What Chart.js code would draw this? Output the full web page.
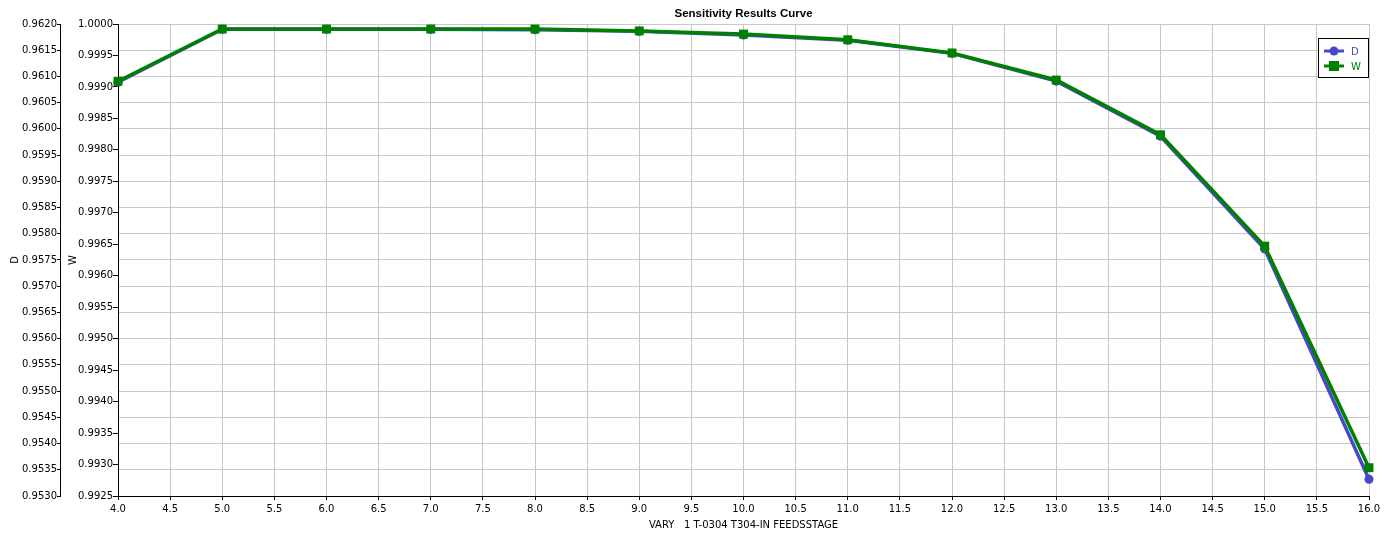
<!DOCTYPE html>
<html>
<head>
<meta charset="utf-8">
<script src="https://cdn.jsdelivr.net/npm/chart.js@4"></script>
<style>
  html, body { margin: 0; padding: 0; background: #fff; }
  #wrap { width: 1387px; height: 540px; }
</style>
</head>
<body>
<div id="wrap"><canvas id="myChart"></canvas></div>
<script>
// feed stage values (x axis)
const stages = [4, 5, 6, 7, 8, 9, 10, 11, 12, 13, 14, 15, 16];
// D series, plotted on the outer left axis
const dValues = [0.96089, 0.96190, 0.96190, 0.96190, 0.96189, 0.96186, 0.96179, 0.96169, 0.96144, 0.96091, 0.95986, 0.95771, 0.95332];
// W series, plotted on the inner left axis
const wValues = [0.99909, 0.99992, 0.99992, 0.99992, 0.99992, 0.99989, 0.99984, 0.99975, 0.99954, 0.99911, 0.99824, 0.99647, 0.99295];

const blue = '#4848c8';
const green = '#008000';
const gridColor = '#c8c8c8';
const font = { family: 'DejaVu Sans', size: 10 };

// title centred over the plot + boxed legend in the top right corner
const decorations = {
    id: 'decorations',
    afterDraw(chart) {
        const ctx = chart.ctx;
        const area = chart.chartArea;
        ctx.save();
        ctx.fillStyle = '#000';
        ctx.font = 'bold 11.5px "Liberation Sans"';
        ctx.textAlign = 'center';
        ctx.textBaseline = 'middle';
        ctx.fillText('Sensitivity Results Curve', (area.left + area.right) / 2, 14);

        // legend box
        const bx = 1318, by = 38, bw = 51, bh = 40;
        ctx.fillStyle = '#fff';
        ctx.fillRect(bx, by, bw, bh);
        ctx.strokeStyle = '#000';
        ctx.lineWidth = 1;
        ctx.strokeRect(bx + 0.5, by + 0.5, bw - 1, bh - 1);

        ctx.font = '10px "DejaVu Sans"';
        ctx.textAlign = 'left';
        chart.data.datasets.slice().reverse().forEach((ds, i) => {
            const y = by + 13 + i * 15;
            ctx.strokeStyle = ds.borderColor;
            ctx.lineWidth = 3;
            ctx.beginPath();
            ctx.moveTo(bx + 6, y);
            ctx.lineTo(bx + 26, y);
            ctx.stroke();
            ctx.fillStyle = ds.borderColor;
            if (ds.pointStyle === 'rect') {
                ctx.fillRect(bx + 11, y - 5, 10, 10);
            } else {
                ctx.beginPath();
                ctx.arc(bx + 16, y, 4.5, 0, Math.PI * 2);
                ctx.fill();
            }
            ctx.fillText(ds.label, bx + 33, y + 1);
        });
        ctx.restore();
    }
};

const ctx = document.getElementById('myChart').getContext('2d');

const chart = new Chart(ctx, {
    type: 'line',
    data: {
        datasets: [
            {
                label: 'W',
                data: stages.map((s, i) => ({ x: s, y: wValues[i] })),
                yAxisID: 'yW',
                borderColor: green,
                backgroundColor: green,
                borderWidth: 3.5,
                pointStyle: 'rect',
                pointRadius: 6.3,
                pointBorderWidth: 0,
                clip: false,
                tension: 0
            },
            {
                label: 'D',
                data: stages.map((s, i) => ({ x: s, y: dValues[i] })),
                yAxisID: 'yD',
                borderColor: blue,
                backgroundColor: blue,
                borderWidth: 3.5,
                pointStyle: 'circle',
                pointRadius: 4.5,
                pointBorderWidth: 0,
                clip: false,
                tension: 0
            }
        ]
    },
    options: {
        responsive: true,
        maintainAspectRatio: false,
        animation: false,
        layout: { padding: { top: 24, right: 18, bottom: 0, left: 0 } },
        plugins: {
            legend: { display: false },
            title: { display: false },
            tooltip: { enabled: false }
        },
        scales: {
            x: {
                type: 'linear',
                min: 4,
                max: 16,
                afterFit: s => { s.height = 44; },
                ticks: {
                    stepSize: 0.5,
                    color: '#000',
                    font: font,
                    padding: 3,
                    maxRotation: 0,
                    autoSkip: false,
                    callback: v => v.toFixed(1)
                },
                grid: { color: gridColor, tickColor: '#000', tickLength: 4, lineWidth: 1 },
                border: { color: '#000', width: 1 },
                title: {
                    display: true,
                    text: 'VARY   1 T-0304 T304-IN FEEDSSTAGE',
                    color: '#000',
                    font: font,
                    padding: { top: 0, bottom: 9 }
                }
            },
            yD: {
                type: 'linear',
                position: 'left',
                weight: 1,
                min: 0.953,
                max: 0.962,
                afterFit: s => { s.width = 60; },
                ticks: {
                    stepSize: 0.0005,
                    color: '#000',
                    font: font,
                    padding: 0,
                    autoSkip: false,
                    callback: v => v.toFixed(4)
                },
                grid: { color: gridColor, tickColor: '#000', tickLength: 3, lineWidth: 1 },
                border: { color: '#000', width: 1 },
                title: {
                    display: true,
                    text: 'D',
                    color: '#000',
                    font: font,
                    padding: { top: 9, bottom: 0 }
                }
            },
            yW: {
                type: 'linear',
                position: 'left',
                weight: 0,
                min: 0.9925,
                max: 1.0,
                afterFit: s => { s.width = 58; },
                ticks: {
                    stepSize: 0.0005,
                    color: '#000',
                    font: font,
                    padding: 0,
                    autoSkip: false,
                    callback: v => v.toFixed(4)
                },
                grid: { drawOnChartArea: false, tickColor: '#000', tickLength: 5 },
                border: { color: '#000', width: 1 },
                title: {
                    display: true,
                    text: 'W',
                    color: '#000',
                    font: font,
                    padding: { top: 7, bottom: 0 }
                }
            }
        }
    },
    plugins: [decorations]
});
</script>
</body>
</html>
